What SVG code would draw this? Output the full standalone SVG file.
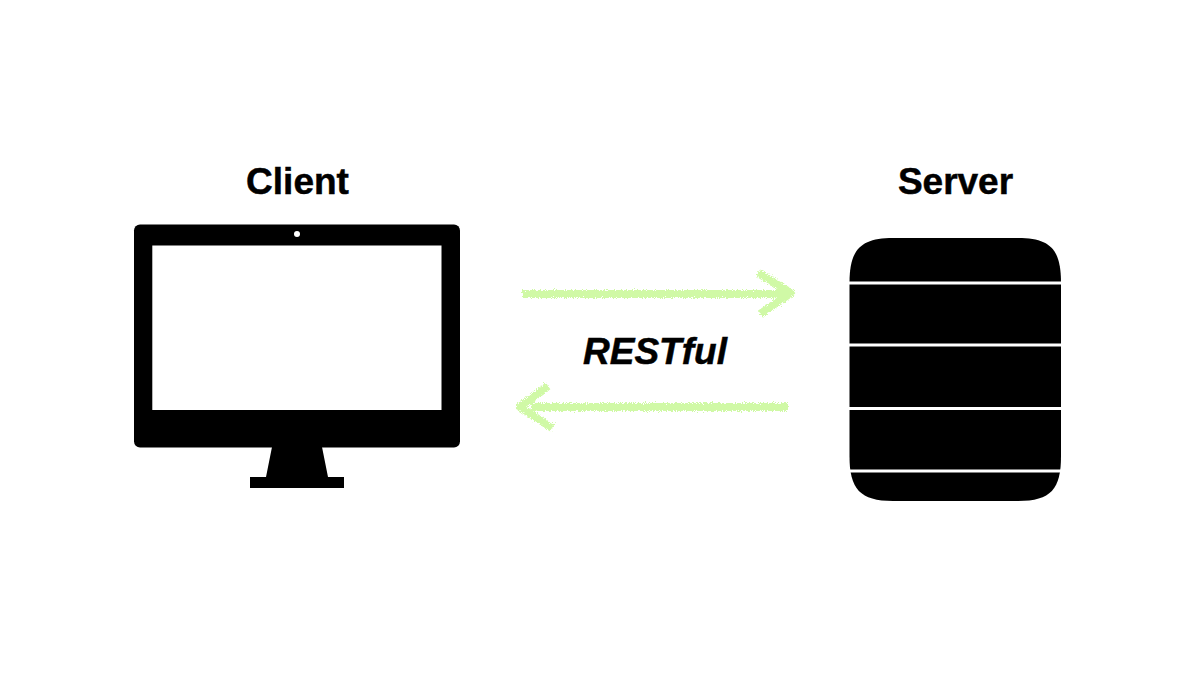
<svg xmlns="http://www.w3.org/2000/svg" width="1200" height="689" viewBox="0 0 1200 689">
<style>
text{font-family:"Liberation Sans",Arial,sans-serif;font-weight:700;font-size:37px;fill:#000;stroke:#000;stroke-width:.5}
.a{fill:none;stroke:#d0f9a6;stroke-width:8;stroke-linecap:butt;stroke-linejoin:round;filter:url(#chalk)}
.sep{stroke:#fff;stroke-width:3.200}
</style>
<defs>
<filter id="chalk" x="-10%" y="-50%" width="120%" height="200%">
<feTurbulence type="fractalNoise" baseFrequency="0.9" numOctaves="2" seed="4" result="n"/>
<feDisplacementMap in="SourceGraphic" in2="n" scale="6" xChannelSelector="R" yChannelSelector="G"/>
</filter>
</defs>
<rect width="1200" height="689" fill="#fff"/>
<g id="client">
<text x="297.500" y="193.500" text-anchor="middle">Client</text>
<rect x="134" y="224.500" width="326" height="223" rx="6" fill="#000"/>
<rect x="152.300" y="245.500" width="289.200" height="164.500" fill="#fff"/>
<circle cx="297" cy="234" r="3" fill="#fff"/>
<path d="M272 447H322L328 477H344V488H250V477H266Z" fill="#000"/>
</g>
<g id="server">
<text x="955.500" y="193.500" text-anchor="middle">Server</text>
<path d="M849.500 283C849.500 250 860 238 893 238H1018C1051 238 1061 250 1061 283V456C1061 489 1051 501 1018 501H893C860 501 849.500 489 849.500 456Z" fill="#000"/>
<path class="sep" d="M849 283H1062M849 345H1062M849 408.500H1062M849 471H1062"/>
</g>
<g id="connectors">
<path class="a" d="M522 294H786M758 273L791 293L760 314"/>
<path class="a" d="M788 407H531M548 386L520 407L552 428"/>
</g>
<text id="restful" x="655" y="364" text-anchor="middle" font-style="italic">RESTful</text>
</svg>
